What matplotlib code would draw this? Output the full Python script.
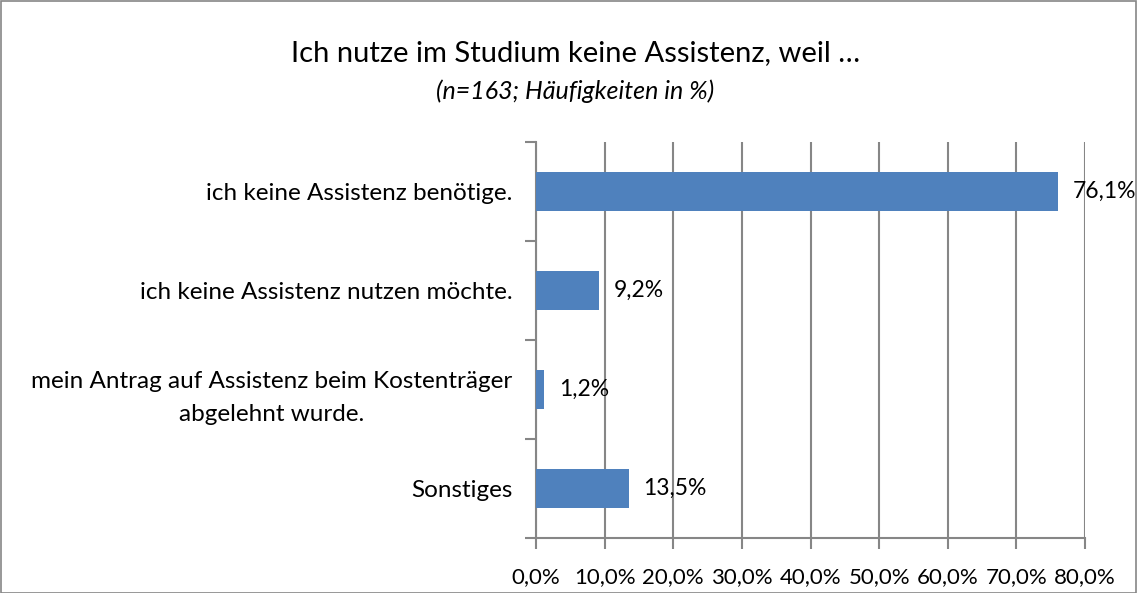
import matplotlib.pyplot as plt
from matplotlib.patches import Rectangle
import numpy as np

plt.rcParams['font.family'] = ['Lato', 'DejaVu Sans']

categories = ["ich keine Assistenz benötige.",
              "ich keine Assistenz nutzen möchte.",
              "mein Antrag auf Assistenz beim Kostenträger\nabgelehnt wurde.",
              "Sonstiges"]
values = [76.1, 9.2, 1.2, 13.5]
xticks = [0, 10, 20, 30, 40, 50, 60, 70, 80]

bar_color = "#4F81BD"
grid_color = "#868686"

fig = plt.figure(figsize=(11.37, 5.93), dpi=100)
ax = fig.add_axes([536/1137, 1 - 538/593, (1085-536)/1137, (538-142)/593])

pos = np.arange(len(categories))
ax.barh(pos, values, height=0.4, color=bar_color, zorder=3)
ax.set_ylim(len(categories) - 0.5, -0.5)
ax.set_xlim(0, 80)

for p, v in zip(pos, values):
    ax.text(v + 2.1, p, f"{v:.1f}%".replace(".", ","), va="center", ha="left",
            fontsize=16.5, zorder=4)

ax.set_xticks(xticks)
ax.set_xticklabels([f"{t:.1f}%".replace(".", ",") for t in xticks], fontsize=16)
ax.xaxis.grid(True, color=grid_color, linewidth=1.5, zorder=0)

# category boundaries as ticks on the y axis
ax.set_yticks(np.arange(-0.5, len(categories)), minor=False)
ax.set_yticklabels([])
ax.set_yticks(pos, minor=True)
ax.set_yticklabels(categories, minor=True, fontsize=17.5, multialignment="center",
                   linespacing=1.75)
ax.tick_params(axis="y", which="minor", length=0, pad=17)
ax.tick_params(axis="y", which="major", length=8, color=grid_color, width=1.5)
ax.tick_params(axis="x", length=8, color=grid_color, width=1.5, pad=13)

for s in ["top", "right"]:
    ax.spines[s].set_visible(False)
for s in ["left", "bottom"]:
    ax.spines[s].set_color(grid_color)
    ax.spines[s].set_linewidth(1.5)

fig.text(0.506, 1 - 53/593, "Ich nutze im Studium keine Assistenz, weil …",
         ha="center", va="center", fontsize=21)
fig.text(0.506, 1 - 91/593, "(n=163; Häufigkeiten in %)", ha="center", va="center",
         fontsize=18, style="italic")

fig.patches.append(Rectangle((0.5/1137, 0.5/593), 1 - 1.5/1137, 1 - 1.5/593,
                             transform=fig.transFigure, fill=False,
                             edgecolor=grid_color, linewidth=1.2))

fig.savefig("out.png", dpi=100)
